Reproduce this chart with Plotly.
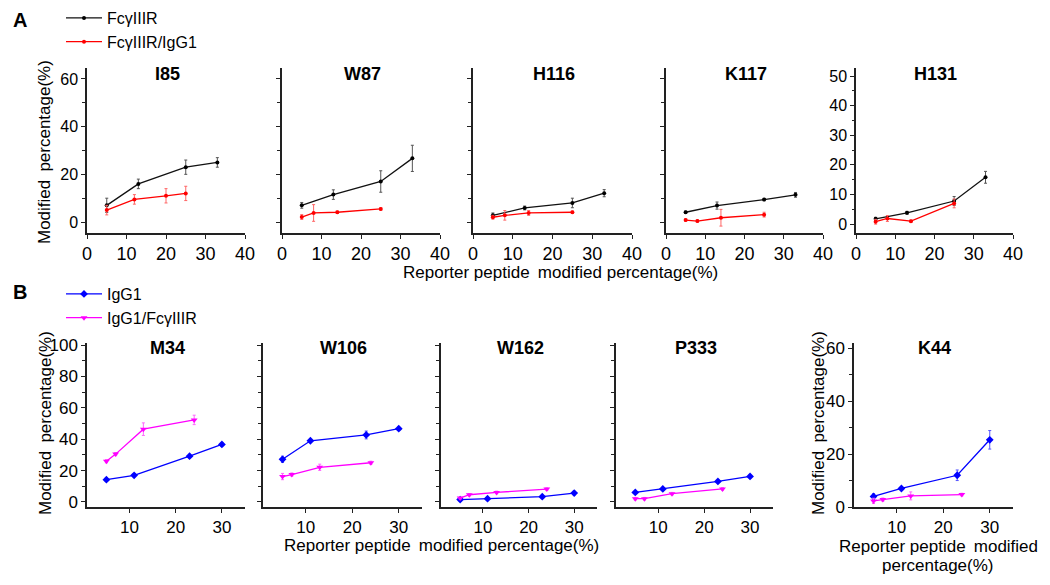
import plotly.graph_objects as go

# The page body keeps its default 8px margin, so the figure is sized to fit the
# 1050x585 window exactly and positions below are given in window pixels.
WIN_W, WIN_H = 1050, 585
OFF = 8
W, H = WIN_W - 2 * OFF, WIN_H - 2 * OFF


def fx(px):
    return (px - OFF) / W


def fy(py):
    return 1 - (py - OFF) / H


# ---------------- Panel A data ----------------
a_titles = ["I85", "W87", "H116", "K117", "H131"]
a_fcr_x = [5, 13, 25, 33]

i85_fcr_y = [7, 16, 23, 25]
i85_fcr_e = [3, 2, 3, 2]
i85_cpx_x = [5, 12, 20, 25]
i85_cpx_y = [5, 9.5, 11, 12]
i85_cpx_e = [2, 2, 3, 3]

w87_fcr_y = [7, 11.5, 17, 26.7]
w87_fcr_e = [1.2, 2, 4.5, 5.5]
w87_cpx_x = [5, 8, 14, 25]
w87_cpx_y = [2.1, 3.8, 4.1, 5.5]
w87_cpx_e = [1, 3.5, 0.5, 0.5]

h116_fcr_y = [2.8, 5.9, 8, 12.1]
h116_fcr_e = [1, 0.8, 2, 1.5]
h116_cpx_x = [5, 8, 14, 25]
h116_cpx_y = [2, 2.8, 3.8, 4.1]
h116_cpx_e = [0.8, 2, 1, 0.5]

k117_fcr_y = [4.1, 6.9, 9.4, 11.4]
k117_fcr_e = [0.5, 1.5, 0.5, 1]
k117_cpx_x = [5, 8, 14, 25]
k117_cpx_y = [0.8, 0.4, 1.8, 3.1]
k117_cpx_e = [0.5, 0.5, 3.5, 1]

h131_fcr_y = [1.8, 3.8, 7.8, 15.8]
h131_fcr_e = [0.5, 0.5, 1.5, 2]
h131_cpx_x = [5, 8, 14, 25]
h131_cpx_y = [0.8, 1.9, 1, 7]
h131_cpx_e = [0.8, 1, 0.4, 1.5]

# ---------------- Panel B data ----------------
b_titles = ["M34", "W106", "W162", "P333", "K44"]
b_igg_x = [5, 11, 23, 30]
b_cpx_x = [5, 7, 13, 24]

m34_igg_y = [14.2, 17, 29.2, 36.7]
m34_igg_e = [1, 1, 1, 1]
m34_cpx_y = [26, 30.5, 46.4, 52.3]
m34_cpx_e = [1, 1, 4, 3]

w106_igg_y = [27.2, 39, 42.7, 46.7]
w106_igg_e = [2, 1, 2.5, 1]
w106_cpx_y = [16.2, 17.5, 22.1, 25]
w106_cpx_e = [2, 1, 2, 1]

w162_igg_y = [1.5, 2.1, 3.4, 5.7]
w162_igg_e = [1, 0.5, 0.8, 1.2]
w162_cpx_y = [2.5, 4.6, 6.1, 8.2]
w162_cpx_e = [0.5, 0.8, 0.8, 0.8]

p333_igg_y = [6.1, 8.3, 13.1, 16.3]
p333_igg_e = [0.5, 0.8, 0.8, 0.8]
p333_cpx_y = [2.1, 2.1, 5.3, 8.3]
p333_cpx_e = [0.8, 0.8, 0.8, 0.8]

k44_igg_y = [4, 7, 12, 25.4]
k44_igg_e = [1, 0.6, 2, 3.5]
k44_cpx_y = [2.3, 2.8, 4.2, 4.7]
k44_cpx_e = [1, 0.6, 1.5, 0.5]

a_rows = [
    (i85_fcr_y, i85_fcr_e, i85_cpx_x, i85_cpx_y, i85_cpx_e),
    (w87_fcr_y, w87_fcr_e, w87_cpx_x, w87_cpx_y, w87_cpx_e),
    (h116_fcr_y, h116_fcr_e, h116_cpx_x, h116_cpx_y, h116_cpx_e),
    (k117_fcr_y, k117_fcr_e, k117_cpx_x, k117_cpx_y, k117_cpx_e),
    (h131_fcr_y, h131_fcr_e, h131_cpx_x, h131_cpx_y, h131_cpx_e),
]
b_rows = [
    (m34_igg_y, m34_igg_e, m34_cpx_y, m34_cpx_e),
    (w106_igg_y, w106_igg_e, w106_cpx_y, w106_cpx_e),
    (w162_igg_y, w162_igg_e, w162_cpx_y, w162_cpx_e),
    (p333_igg_y, p333_igg_e, p333_cpx_y, p333_cpx_e),
    (k44_igg_y, k44_igg_e, k44_cpx_y, k44_cpx_e),
]

# ---------------- layout geometry (window pixels) ----------------
a_xdom = [(87, 245), (282, 440), (473, 632), (666, 823), (856, 1013)]
b_xdom = [(87, 245), (263, 422), (441, 597), (616, 773), (854, 1013)]
a_ydom = (68, 233)
b_ydom = (343, 507)

FONT = "Liberation Sans, Arial, sans-serif"
AXC = "#222222"

fig = go.Figure()
layout = dict(
    width=W, height=H,
    margin=dict(l=0, r=0, t=0, b=0, autoexpand=False),
    paper_bgcolor="white", plot_bgcolor="white",
    font=dict(family=FONT, color="black", size=16),
    showlegend=True,
)


def axis_common():
    return dict(showline=True, linecolor=AXC, linewidth=1.5, showgrid=False,
                zeroline=False, ticks="outside", tickcolor=AXC, ticklen=4,
                tickwidth=1.3, automargin=False)


def note(text, x, y, size=17, angle=0):
    return dict(text=text, x=fx(x), y=fy(y), xref="paper", yref="paper",
                xanchor="center", yanchor="middle", showarrow=False,
                textangle=angle, font=dict(size=size, color="black"))


annotations = []

for i in range(5):
    n = i + 1
    xa = "x" if n == 1 else f"x{n}"
    ya = "y" if n == 1 else f"y{n}"
    fy_, fe_, cx_, cy_, ce_ = a_rows[i]
    fig.add_trace(go.Scatter(
        x=a_fcr_x, y=fy_, xaxis=xa, yaxis=ya, name="FcγIIIR",
        mode="lines+markers", line=dict(color="#111111", width=1.3),
        marker=dict(size=4, color="black", symbol="circle"),
        error_y=dict(type="data", array=fe_, color="#555555", thickness=1, width=1.5),
        showlegend=(i == 0), legend="legend"))
    fig.add_trace(go.Scatter(
        x=cx_, y=cy_, xaxis=xa, yaxis=ya, name="FcγIIIR/IgG1",
        mode="lines+markers", line=dict(color="#ff0000", width=1.3),
        marker=dict(size=4, color="#ff0000", symbol="circle"),
        error_y=dict(type="data", array=ce_, color="#ff6666", thickness=1, width=1.5),
        showlegend=(i == 0), legend="legend"))

    xd = a_xdom[i]
    xax = axis_common()
    xax.update(domain=[fx(xd[0]), fx(xd[1])], anchor=ya, range=[0, 40],
               tickvals=[0, 10, 20, 30, 40], tickfont=dict(size=18))
    yax = axis_common()
    if i < 4:
        yr = [-4.6, 64.6]
        tv = [0, 20, 40, 60]
        minor = dict(dtick=10, tick0=0, ticklen=3, ticks="outside", tickcolor=AXC)
    else:
        yr = [-3, 52.7]
        tv = [0, 10, 20, 30, 40, 50]
        minor = dict(dtick=5, tick0=0, ticklen=2.5, ticks="outside", tickcolor=AXC)
    yax.update(domain=[fy(a_ydom[1]), fy(a_ydom[0])], anchor=xa, range=yr,
               tickvals=tv, minor=minor, tickfont=dict(size=16),
               showticklabels=(i in (0, 4)))
    layout["xaxis" if n == 1 else f"xaxis{n}"] = xax
    layout["yaxis" if n == 1 else f"yaxis{n}"] = yax
    annotations.append(note(f"<b>{a_titles[i]}</b>", (xd[0] + xd[1]) / 2 + 1, 74, size=18))

for i in range(5):
    n = i + 6
    xa = f"x{n}"
    ya = f"y{n}"
    gy_, ge_, cy_, ce_ = b_rows[i]
    fig.add_trace(go.Scatter(
        x=b_igg_x, y=gy_, xaxis=xa, yaxis=ya, name="IgG1",
        mode="lines+markers", line=dict(color="#0000ff", width=1.3),
        marker=dict(size=6, color="#0000ff", symbol="diamond"),
        error_y=dict(type="data", array=ge_, color="#5555ff", thickness=1, width=1.5),
        showlegend=(i == 0), legend="legend2"))
    fig.add_trace(go.Scatter(
        x=b_cpx_x, y=cy_, xaxis=xa, yaxis=ya, name="IgG1/FcγIIIR",
        mode="lines+markers", line=dict(color="#ff00ff", width=1.3),
        marker=dict(size=6, color="#ff00ff", symbol="triangle-down"),
        error_y=dict(type="data", array=ce_, color="#ff66ff", thickness=1, width=1.5),
        showlegend=(i == 0), legend="legend2"))

    xd = b_xdom[i]
    xax = axis_common()
    xax.update(domain=[fx(xd[0]), fx(xd[1])], anchor=ya, range=[0.8, 35],
               tickvals=[10, 20, 30], tickfont=dict(size=17))
    yax = axis_common()
    if i < 4:
        yr = [-3.2, 101.3]
        tv = [0, 20, 40, 60, 80, 100]
    else:
        yr = [0, 62]
        tv = [0, 20, 40, 60]
    minor = dict(dtick=10, tick0=0, ticklen=3, ticks="outside", tickcolor=AXC)
    yax.update(domain=[fy(b_ydom[1]), fy(b_ydom[0])], anchor=xa, range=yr,
               tickvals=tv, minor=minor, tickfont=dict(size=17),
               showticklabels=(i in (0, 4)))
    layout[f"xaxis{n}"] = xax
    layout[f"yaxis{n}"] = yax
    annotations.append(note(f"<b>{b_titles[i]}</b>", (xd[0] + xd[1]) / 2 + 1, 348, size=18))

# panel letters
annotations.append(note("<b>A</b>", 20, 20, size=20))
annotations.append(note("<b>B</b>", 20, 292, size=20))

# axis titles
ytitle = "Modified \u2009percentage(%)"
xtitle = "Reporter peptide \u2009modified percentage(%)"
annotations.append(note(ytitle, 45, 152, angle=-90))
annotations.append(note(ytitle, 45, 423, angle=-90))
annotations.append(note(ytitle, 818, 423, angle=-90))
annotations.append(note(xtitle, 560, 272))
annotations.append(note(xtitle, 441, 545))
annotations.append(note("Reporter peptide \u2009modified", 938, 546))
annotations.append(note("percentage(%)", 938, 565))

layout["annotations"] = annotations
layout["legend"] = dict(x=fx(61), y=fy(1), xanchor="left", yanchor="top",
                        bgcolor="rgba(0,0,0,0)", font=dict(size=16), tracegroupgap=0,
                        itemwidth=36)
layout["legend2"] = dict(x=fx(61), y=fy(277), xanchor="left", yanchor="top",
                         bgcolor="rgba(0,0,0,0)", font=dict(size=16), tracegroupgap=0,
                         itemwidth=36)

fig.update_layout(**layout)
fig.write_html("out.html")
